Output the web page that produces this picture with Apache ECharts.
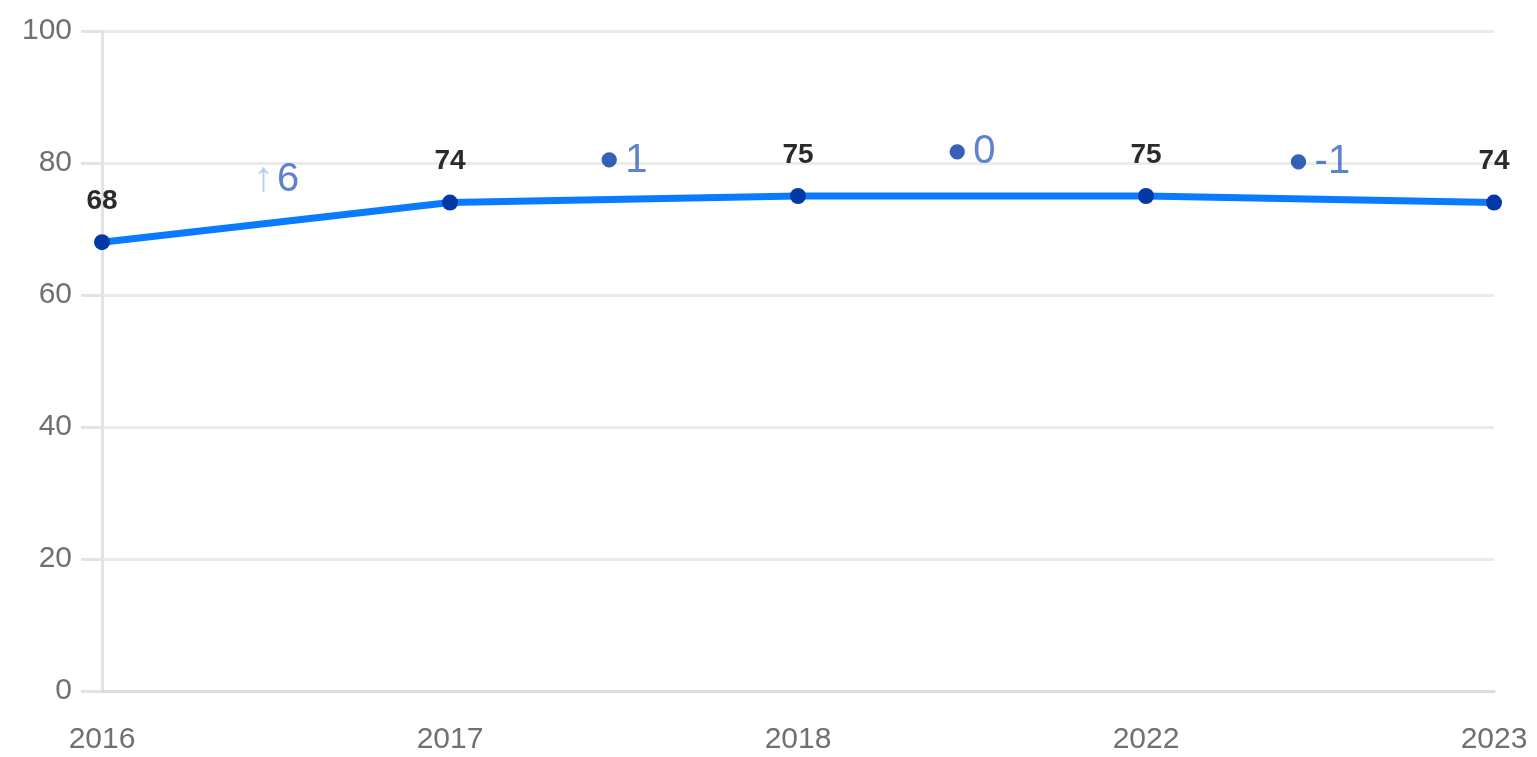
<!DOCTYPE html>
<html><head><meta charset="utf-8">
<script src="https://cdn.jsdelivr.net/npm/echarts@6/dist/echarts.min.js"></script>
<style>html,body{margin:0;padding:0;background:#fff}#c{width:1537px;height:757px}</style>
</head><body><div id="c"></div>
<script>
var categories = ['2016','2017','2018','2022','2023'];
var values = [68, 74, 75, 75, 74];
var changeTexts = ['6', '1', '0', '-1'];
var changeKinds = ['up', 'flat', 'flat', 'flat'];
var changeLevels = [77.5, 80.3, 81.6, 80.1];
var yTicks = [0, 20, 40, 60, 80, 100];

var chart = echarts.init(document.getElementById('c'));
var annData = changeTexts.map(function(t, i){
  return {value: [i + 0.5, changeLevels[i]], kind: changeKinds[i], txt: t};
});
chart.setOption({
  animation: false,
  grid: {left: 102, right: 43, top: 31, bottom: 66},
  xAxis: [{
    type: 'category', data: categories, boundaryGap: false,
    axisLine: {show: true, lineStyle: {color: '#dcdcdc', width: 3}},
    axisTick: {show: false},
    axisLabel: {color: '#707070', fontSize: 30, fontFamily: 'Liberation Sans', margin: 34},
    splitLine: {show: false}
  }, {
    type: 'value', min: 0, max: categories.length - 1, show: false
  }],
  yAxis: {
    type: 'value', min: yTicks[0], max: yTicks[yTicks.length - 1], interval: 20,
    axisLine: {show: true, lineStyle: {color: '#e3e3e3', width: 3}},
    axisTick: {show: true, length: 21, lineStyle: {color: '#e3e3e3', width: 3}},
    axisLabel: {color: '#707070', fontSize: 30, fontFamily: 'Liberation Sans', margin: 30},
    splitLine: {show: true, lineStyle: {color: '#ebebeb', width: 3}}
  },
  series: [{
    type: 'line', data: values, xAxisIndex: 0,
    symbol: 'circle', symbolSize: 16,
    itemStyle: {color: '#0339a6'},
    lineStyle: {color: '#0a7bff', width: 7},
    label: {show: true, position: 'top', distance: 19, color: '#2b2b2b', fontSize: 28,
      fontWeight: 'bold', fontFamily: 'Liberation Sans'},
    z: 3
  }, {
    type: 'scatter', xAxisIndex: 1, data: annData, symbolSize: 0,
    label: {
      show: true, position: 'inside',
      formatter: function(p){
        var d = p.data;
        if (d.kind === 'up') return '{a|↑} {n|' + d.txt + '}';
        return '{d|●} {n|' + d.txt + '}';
      },
      rich: {
        a: {color: '#a9bfe6', fontSize: 42, fontFamily: 'Liberation Sans', padding: [0, 0, 0, 0]},
        d: {color: '#0339a6', fontSize: 20, fontFamily: 'DejaVu Sans', padding: [0, 4, 2, 0]},
        n: {color: '#3463c2', fontSize: 40, fontFamily: 'Liberation Sans'}
      }
    }
  }]
});
</script></body></html>
